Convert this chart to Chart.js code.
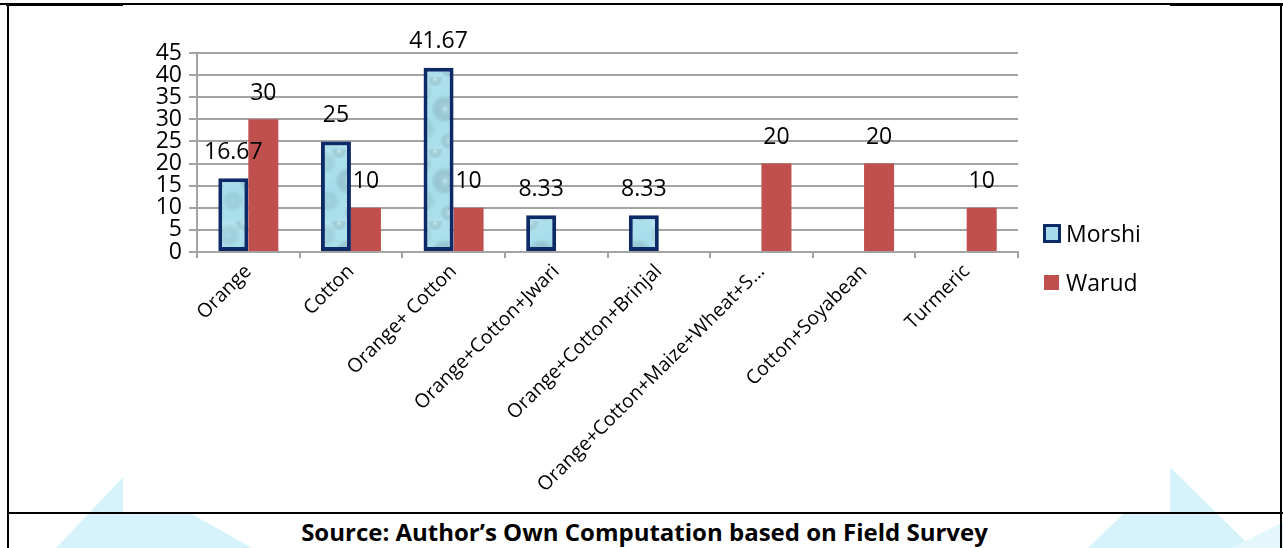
<!DOCTYPE html>
<html>
<head>
<meta charset="utf-8">
<script src="https://cdn.jsdelivr.net/npm/chart.js@4.4.1/dist/chart.umd.min.js"></script>
<style>
  html, body { margin: 0; padding: 0; background: #fff; }
  #page { position: relative; width: 1283px; height: 548px; overflow: hidden; background: #fff; }
  #wm { position: absolute; left: 0; top: 0; }
  .rule { position: absolute; background: #000; }
  #chartBox { position: absolute; left: 123px; top: 5px; width: 1047px; height: 507px; background: #fff; }
  #legend { position: absolute; left: 1043px; top: 222px; font-family: "Open Sans", sans-serif; font-size: 23px; color: #000; }
  .lg-row { position: absolute; left: 0; white-space: nowrap; height: 24px; line-height: 24px; }
  .lg-box { position: absolute; box-sizing: border-box; }
  .lg-text { position: absolute; left: 23px; top: -1px; }
  #source { position: absolute; left: 8px; right: 2px; top: 515px; text-align: center;
            font-family: "Open Sans", sans-serif; font-weight: bold; font-size: 24px; color: #000; }
</style>
</head>
<body>
<div id="page">
  <!-- faint logo shapes behind the page -->
  <svg id="wm" width="1283" height="548">
    <polygon points="124,476 252,548 56,548" fill="#d6f3fb"/>
    <polygon points="1171,468 1252,548 1088,548" fill="#d6f3fb"/>
    <polygon points="1232,548 1283,522 1283,548" fill="#e4f7fc"/>
  </svg>

  <div class="rule" style="left:0; top:3px; width:1283px; height:2px;"></div>
  <div class="rule" style="left:6px; top:3px; width:117px; height:3px;"></div>
  <div class="rule" style="left:1170px; top:3px; width:113px; height:3px;"></div>
  <div class="rule" style="left:7px; top:3px; width:2px; height:545px;"></div>
  <div class="rule" style="left:1280px; top:3px; width:2px; height:545px;"></div>

  <div id="chartBox"><canvas id="cropChart" width="1047" height="507"></canvas></div>
  <div class="rule" style="left:7px; top:512px; width:1276px; height:2px;"></div>

  <div id="legend"></div>
  <div id="source">Source: Author’s Own Computation based on Field Survey</div>
</div>

<script>
// 作物组合（类别）
const categories = [
    'Orange',
    'Cotton',
    'Orange+ Cotton',
    'Orange+Cotton+Jwari',
    'Orange+Cotton+Brinjal',
    'Orange+Cotton+Maize+Wheat+S…',
    'Cotton+Soyabean',
    'Turmeric'
];

// 两个地区的百分比
const morshiValues = [16.67, 25, 41.67, 8.33, 8.33, null, null, null];
const warudValues = [30, 10, 10, null, null, 20, 20, 10];

const seriesNames = ['Morshi', 'Warud'];

// 纵轴刻度
const yMin = 0;
const yMax = 45;
const yStep = 5;

const gridColor = '#a3a3a3';
const navy = '#0c2a68';
const warudRed = '#c0504d';

// 浅蓝色纹理填充
function makeTexture() {
    const c = document.createElement('canvas');
    c.width = 48;
    c.height = 72;
    const g = c.getContext('2d');
    const lin = g.createLinearGradient(0, 0, 48, 72);
    lin.addColorStop(0, '#b4e5f0');
    lin.addColorStop(0.5, '#a5dcea');
    lin.addColorStop(1, '#afe1ed');
    g.fillStyle = lin;
    g.fillRect(0, 0, 48, 72);
    const spots = [[10, 14, 12, 'rgba(140,195,212,0.25)'], [34, 32, 14, 'rgba(210,243,249,0.45)'],
                   [14, 52, 11, 'rgba(135,190,208,0.22)'], [38, 64, 9, 'rgba(215,246,250,0.4)'],
                   [24, 2, 8, 'rgba(218,247,251,0.4)']];
    spots.forEach(([x, y, r, col]) => {
        const rg = g.createRadialGradient(x, y, 0, x, y, r);
        rg.addColorStop(0, col);
        rg.addColorStop(1, 'rgba(0,0,0,0)');
        g.fillStyle = rg;
        g.fillRect(0, 0, 48, 72);
    });
    return g.createPattern(c, 'repeat');
}

const texture = makeTexture();

// 柱顶数值标签
const valueLabels = {
    id: 'valueLabels',
    afterDatasetsDraw(chart) {
        const ctx = chart.ctx;
        ctx.save();
        ctx.font = '23px "Open Sans", sans-serif';
        ctx.fillStyle = '#000';
        ctx.textAlign = 'center';
        ctx.textBaseline = 'middle';
        chart.data.datasets.forEach((ds, i) => {
            const meta = chart.getDatasetMeta(i);
            meta.data.forEach((bar, j) => {
                const v = ds.data[j];
                if (v === null || v === undefined) return;
                ctx.fillText(String(v), bar.x, bar.y - 26);
            });
        });
        ctx.restore();
    }
};

let cropChart;

document.addEventListener('DOMContentLoaded', () => {
    initChart();
    buildLegend();
});

function initChart() {
    cropChart = new Chart(document.getElementById('cropChart'), {
        type: 'bar',
        data: {
            labels: categories,
            datasets: [
                {
                    label: seriesNames[0],
                    data: morshiValues,
                    backgroundColor: texture,
                    borderColor: navy,
                    borderWidth: 4,
                    borderSkipped: false
                },
                {
                    label: seriesNames[1],
                    data: warudValues,
                    backgroundColor: warudRed,
                    borderWidth: 0
                }
            ]
        },
        options: {
            responsive: false,
            animation: false,
            categoryPercentage: 0.585,
            barPercentage: 1,
            layout: { padding: { top: 48, right: 152, left: 0, bottom: 0 } },
            plugins: {
                legend: { display: false },
                tooltip: { enabled: false }
            },
            scales: {
                x: {
                    grid: {
                        drawOnChartArea: false,
                        drawTicks: true,
                        tickLength: 6,
                        offset: true,
                        color: gridColor,
                        lineWidth: 2
                    },
                    border: { color: gridColor, width: 2 },
                    ticks: {
                        autoSkip: false,
                        maxRotation: 45,
                        minRotation: 45,
                        padding: 2,
                        color: '#000',
                        font: { family: 'Open Sans', size: 19.5 }
                    },
                    afterFit: s => { s.height = 260; }
                },
                y: {
                    min: yMin,
                    max: yMax,
                    grid: { color: gridColor, lineWidth: 2, tickLength: 8 },
                    border: { color: gridColor, width: 2 },
                    ticks: {
                        stepSize: yStep,
                        autoSkip: false,
                        padding: 7,
                        color: '#000',
                        font: { family: 'Open Sans', size: 23 }
                    },
                    afterFit: s => { s.width = 74; }
                }
            }
        },
        plugins: [valueLabels]
    });
}

// 图例
function buildLegend() {
    const legend = document.getElementById('legend');
    const styles = [
        { top: 0, box: 'left:0;top:2px;width:18px;height:19px;border:3px solid ' + navy + ';background:#a6dcea;' },
        { top: 49, box: 'left:1px;top:4px;width:15px;height:15px;background:' + warudRed + ';' }
    ];
    seriesNames.forEach((name, i) => {
        const row = `
            <div class="lg-row" style="top:${styles[i].top}px">
                <div class="lg-box" style="${styles[i].box}"></div>
                <div class="lg-text">${name}</div>
            </div>`;
        legend.insertAdjacentHTML('beforeend', row);
    });
}
</script>
</body>
</html>
